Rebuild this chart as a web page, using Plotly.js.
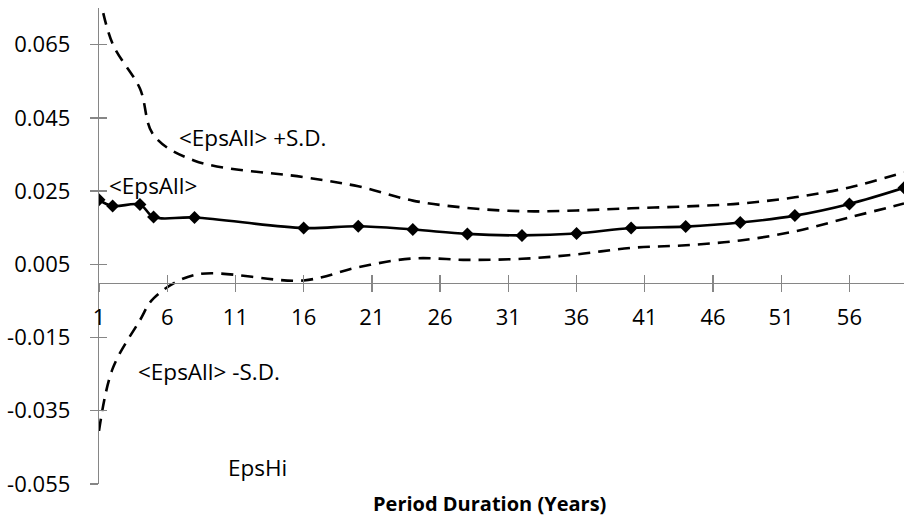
<!DOCTYPE html>
<html><head><meta charset="utf-8">
<script src="https://cdn.plot.ly/plotly-3.0.1.min.js"></script>
<style>html,body{margin:0;padding:0;background:#fff}#chart{width:904px;height:519px}</style>
</head><body><div id="chart"></div>
<script>
// Data
const periods = [1, 2, 4, 5, 8, 16, 20, 24, 28, 32, 36, 40, 44, 48, 52, 56, 60];
const epsAll = [0.0226, 0.0209, 0.0213, 0.0179, 0.0178, 0.0149, 0.0154, 0.0145, 0.0133, 0.0129, 0.0134, 0.0149, 0.0153, 0.0164, 0.0183, 0.0215, 0.0259];
const epsPlusSD = [0.079, 0.0652, 0.053, 0.0403, 0.0333, 0.0288, 0.0263, 0.0224, 0.0204, 0.0195, 0.0197, 0.0203, 0.0208, 0.0216, 0.0233, 0.0260, 0.0301];
const epsMinusSD = [-0.0405, -0.0235, -0.0103, -0.0043, 0.0021, 0.0006, 0.0042, 0.0066, 0.0062, 0.0065, 0.0077, 0.0095, 0.0102, 0.0115, 0.0140, 0.0178, 0.0216];
const xTickVals = [1, 6, 11, 16, 21, 26, 31, 36, 41, 46, 51, 56];
const yTickVals = [-0.055, -0.035, -0.015, 0.005, 0.025, 0.045, 0.065];
const yTickText = ['-0.055', '-0.035', '-0.015', '0.005', '0.025', '0.045', '0.065'];
const labelMean = '<EpsAll>';
const labelPlus = '<EpsAll> +S.D.';
const labelMinus = '<EpsAll> -S.D.';
const labelHi = 'EpsHi';
const xTitle = '<b>Period Duration (Years)</b>';

const xRange = [1, 60];
const yRange = [-0.055, 0.075];
const axisGray = '#868686';
const crossPos = (0 - yRange[0]) / (yRange[1] - yRange[0]);

const esc = s => s.replace(/</g, '&lt;').replace(/>/g, '&gt;');

const traces = [
  {x: periods, y: epsPlusSD, mode: 'lines', line: {color: '#000', width: 2.6, dash: '12px,8px', shape: 'spline', smoothing: 1}, hoverinfo: 'skip'},
  {x: periods, y: epsMinusSD, mode: 'lines', line: {color: '#000', width: 2.6, dash: '12px,8px', shape: 'spline', smoothing: 1}, hoverinfo: 'skip'},
  {x: periods, y: epsAll, mode: 'lines+markers', line: {color: '#000', width: 2.6, shape: 'spline', smoothing: 1},
   marker: {symbol: 'diamond', size: 10, color: '#000'}, hoverinfo: 'skip'},
  {x: [null], y: [null], xaxis: 'x2', yaxis: 'y2', mode: 'markers', hoverinfo: 'skip', showlegend: false}
];

const tickFont = {family: 'Open Sans', size: 22, color: '#000'};
const annFont = {family: 'Open Sans', size: 22.5, color: '#000'};

const layout = {
  width: 904, height: 519,
  margin: {l: 99, r: 0, t: 8, b: 35, pad: 0},
  paper_bgcolor: '#fff', plot_bgcolor: '#fff',
  showlegend: false,
  font: {family: 'Open Sans', size: 22, color: '#000'},
  xaxis: {range: xRange, anchor: 'free', position: crossPos, tickmode: 'array', tickvals: xTickVals,
    ticks: 'outside', ticklen: 8, tickwidth: 1.3, tickcolor: axisGray,
    showline: true, linecolor: axisGray, linewidth: 1.3, showgrid: false, zeroline: false,
    tickfont: tickFont, ticklabelstandoff: 7, fixedrange: true},
  xaxis2: {range: xRange, overlaying: 'x', anchor: 'free', position: crossPos, tickmode: 'array', tickvals: xTickVals,
    ticks: 'inside', ticklen: 8, tickwidth: 1.3, tickcolor: axisGray,
    showline: false, showgrid: false, zeroline: false, showticklabels: false, fixedrange: true},
  yaxis: {range: yRange, tickmode: 'array', tickvals: yTickVals, ticktext: yTickText,
    ticks: 'outside', ticklen: 8, tickwidth: 1.3, tickcolor: axisGray,
    showline: true, linecolor: axisGray, linewidth: 1.3, showgrid: false, zeroline: false,
    tickfont: tickFont, ticklabelstandoff: 15, fixedrange: true},
  yaxis2: {range: yRange, overlaying: 'y', anchor: 'x2', side: 'left', tickmode: 'array', tickvals: yTickVals,
    ticks: 'inside', ticklen: 8, tickwidth: 1.3, tickcolor: axisGray,
    showline: false, showgrid: false, zeroline: false, showticklabels: false, fixedrange: true},
  annotations: [
    {text: esc(labelPlus), x: 6.7, y: 0.0395, xref: 'x', yref: 'y', xanchor: 'left', yanchor: 'middle', showarrow: false, font: annFont},
    {text: esc(labelMean), x: 1.62, y: 0.0264, xref: 'x', yref: 'y', xanchor: 'left', yanchor: 'middle', showarrow: false, font: annFont},
    {text: esc(labelMinus), x: 3.68, y: -0.0244, xref: 'x', yref: 'y', xanchor: 'left', yanchor: 'middle', showarrow: false, font: annFont},
    {text: esc(labelHi), x: 10.33, y: -0.0505, xref: 'x', yref: 'y', xanchor: 'left', yanchor: 'middle', showarrow: false, font: annFont},
    {text: xTitle, x: 0.485, y: -0.04, xref: 'paper', yref: 'paper', xanchor: 'center', yanchor: 'middle', showarrow: false,
     font: {family: 'Open Sans', size: 20, color: '#000'}}
  ]
};

Plotly.newPlot('chart', traces, layout, {staticPlot: true, displayModeBar: false});
</script>
</body></html>
